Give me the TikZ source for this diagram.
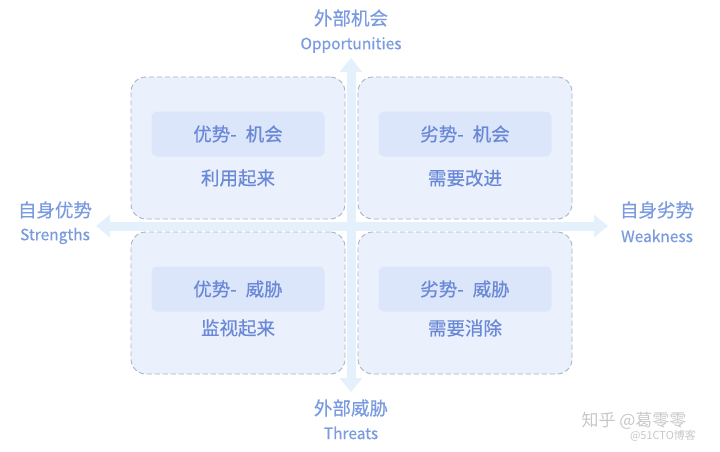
\documentclass[tikz,border=0pt]{standalone}
\usepackage{fontspec}
\setmainfont{Noto Sans CJK SC}
\newfontfamily\cjkm[FakeBold=0.5]{Noto Sans CJK SC}
\usetikzlibrary{arrows.meta}
\definecolor{qfill}{HTML}{EAF1FD}
\definecolor{lfill}{HTML}{DCE6FB}
\definecolor{qtxt}{HTML}{6A88D6}
\definecolor{atxt}{HTML}{7A9BE0}
\definecolor{axis}{HTML}{E4F1FC}
\definecolor{dash}{HTML}{A8B2C4}
\definecolor{wm}{HTML}{C8C8C8}
\begin{document}
\begin{tikzpicture}[x=1pt,y=-1pt,
  quad/.style={draw=dash,dashed,dash pattern=on 5pt off 3pt,line width=0.9pt,fill=qfill,rounded corners=15pt,minimum width=214pt,minimum height=142pt,inner sep=0pt},
  lab/.style={fill=lfill,rounded corners=6pt,minimum width=173pt,minimum height=45pt,inner sep=0pt,text=qtxt,font=\cjkm\fontsize{18.5}{20}\selectfont},
  sub/.style={text=qtxt,font=\cjkm\fontsize{18.5}{20}\selectfont,inner sep=0pt},
  axlab/.style={text=atxt,font=\cjkm\fontsize{18.5}{20}\selectfont,inner sep=0pt},
  axen/.style={text=atxt,font=\cjkm\fontsize{15.5}{18}\selectfont,inner sep=0pt},
  axarrow/.style={draw=axis,line width=9pt,-{Triangle[length=14pt,width=22pt]}}]
\useasboundingbox[fill=white] (0,0) rectangle (720,451);
% axes
\coordinate (hc) at (351,226);
\coordinate (hl) at (96,226);
\coordinate (hr) at (608,226);
\coordinate (vt) at (351,58);
\coordinate (vb) at (351,392);
\draw[axarrow] (hc) -- (hl);
\draw[axarrow] (hc) -- (hr);
\draw[axarrow] (hc) -- (vt);
\draw[axarrow] (hc) -- (vb);
% quadrants
\node[quad] (q1) at (238,148) {};
\node[quad] (q2) at (465,148) {};
\node[quad] (q3) at (238,303) {};
\node[quad] (q4) at (465,303) {};
\node[lab] (l1) at (238,134) {优势-\hspace{9pt}机会};
\node[lab] (l2) at (465,134) {劣势-\hspace{9pt}机会};
\node[lab] (l3) at (238,289) {优势-\hspace{9pt}威胁};
\node[lab] (l4) at (465,289) {劣势-\hspace{9pt}威胁};
\node[sub] (s1) at (238,178) {利用起来};
\node[sub] (s2) at (465,178) {需要改进};
\node[sub] (s3) at (238,328) {监视起来};
\node[sub] (s4) at (465,328) {需要消除};
% axis labels
\node[axlab] (ot) at (351,18) {外部机会};
\node[axen] (oe) at (351,45) {Opportunities};
\node[axlab] (st) at (55,210) {自身优势};
\node[axen] (se) at (55,236) {Strengths};
\node[axlab] (wt) at (657,210) {自身劣势};
\node[axen] (we) at (657,236) {Weakness};
\node[axlab] (tt) at (351,408) {外部威胁};
\node[axen] (te) at (351,433) {Threats};
% watermark
\node[text=wm,font=\fontsize{17}{18}\selectfont,inner sep=0pt] (wm1) at (634,421) {知乎 @葛零零};
\node[text=wm,font=\fontsize{11}{12}\selectfont,inner sep=0pt] (wm2) at (663,436) {@51CTO博客};
\end{tikzpicture}
\end{document}
